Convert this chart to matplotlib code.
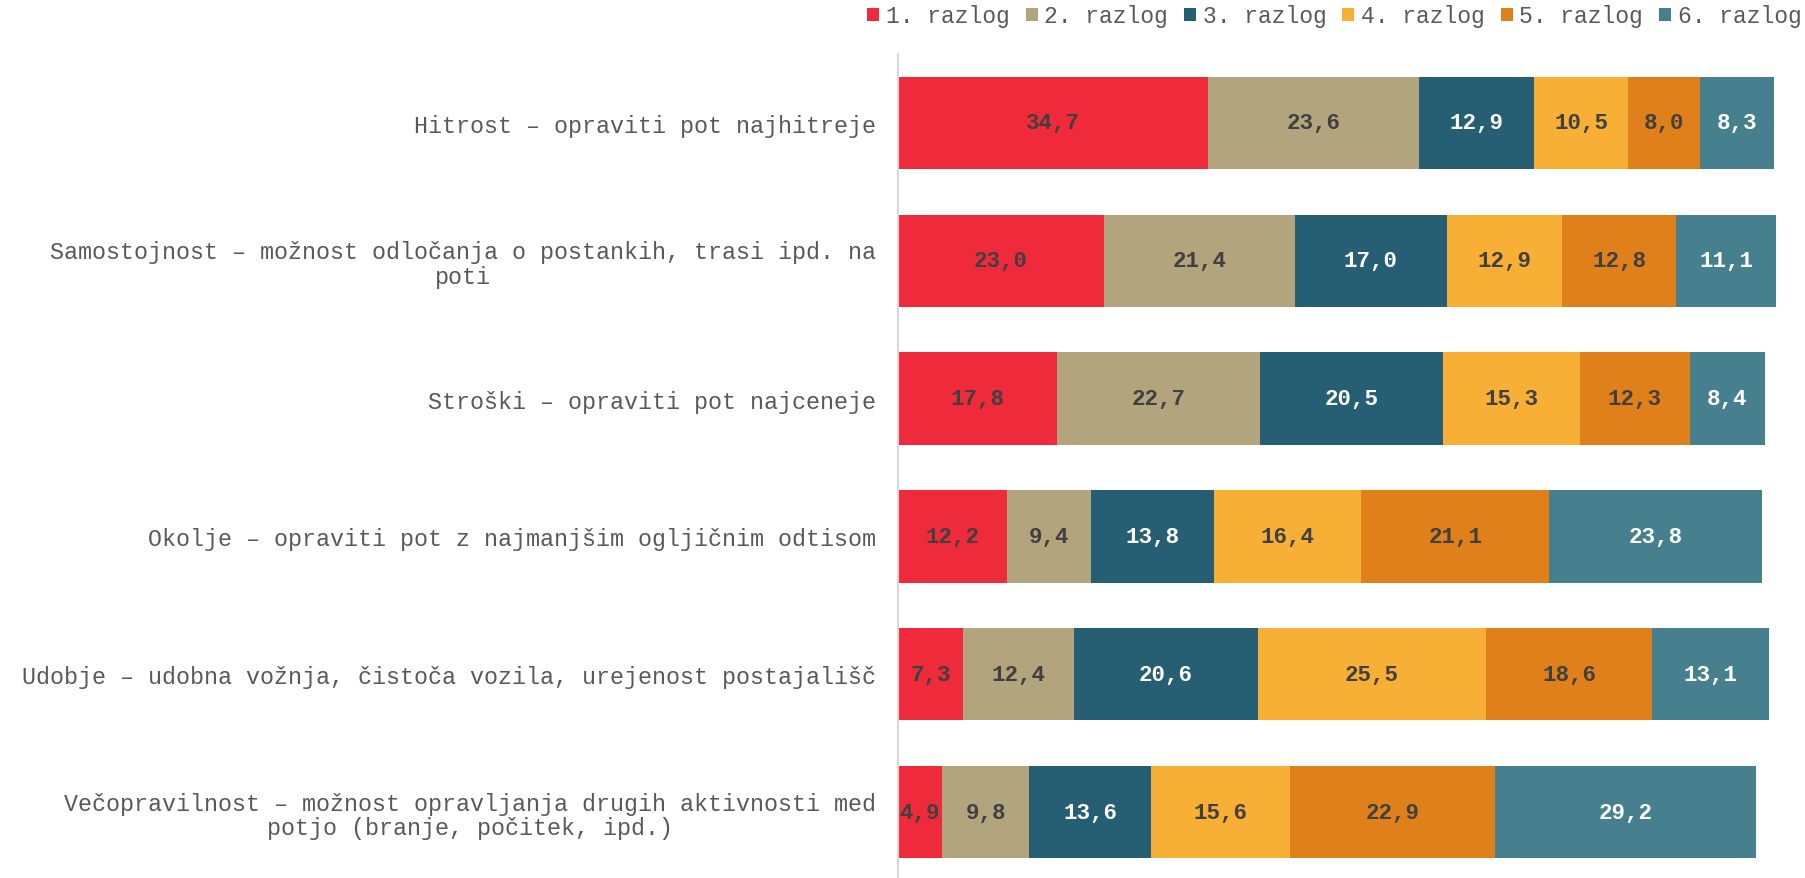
import matplotlib
matplotlib.use("Agg")
import matplotlib.pyplot as plt
import numpy as np

categories = [
    "Hitrost – opraviti pot najhitreje",
    "Samostojnost – možnost odločanja o postankih, trasi ipd. na\npoti",
    "Stroški – opraviti pot najceneje",
    "Okolje – opraviti pot z najmanjšim ogljičnim odtisom",
    "Udobje – udobna vožnja, čistoča vozila, urejenost postajališč",
    "Večopravilnost – možnost opravljanja drugih aktivnosti med\npotjo (branje, počitek, ipd.)",
]
series_names = ["1. razlog", "2. razlog", "3. razlog", "4. razlog", "5. razlog", "6. razlog"]
razlog1 = [34.7, 23.0, 17.8, 12.2, 7.3, 4.9]
razlog2 = [23.6, 21.4, 22.7, 9.4, 12.4, 9.8]
razlog3 = [12.9, 17.0, 20.5, 13.8, 20.6, 13.6]
razlog4 = [10.5, 12.9, 15.3, 16.4, 25.5, 15.6]
razlog5 = [8.0, 12.8, 12.3, 21.1, 18.6, 22.9]
razlog6 = [8.3, 11.1, 8.4, 23.8, 13.1, 29.2]
series = [razlog1, razlog2, razlog3, razlog4, razlog5, razlog6]

colors = ["#EE2A3B", "#B2A47C", "#265E74", "#F7AF35", "#E0801A", "#46808E"]
label_colors = ["#404040", "#404040", "white", "#404040", "#404040", "white"]

FONT = "Liberation Mono"
plt.rcParams["font.family"] = [FONT, "DejaVu Sans"]

fig = plt.figure(figsize=(18.06, 8.79), dpi=100)
ax = fig.add_axes([0.4972, -0.0034, 0.5028, 0.9408])

y = np.arange(len(categories))
left = np.zeros(len(categories))
for name, vals, col, lcol in zip(series_names, series, colors, label_colors):
    vals = np.array(vals)
    ax.barh(y, vals, left=left, height=0.67, color=col, label=name, edgecolor="none")
    for yi, l, v in zip(y, left, vals):
        ax.text(l + v / 2, yi, f"{v:.1f}".replace(".", ","), ha="center", va="center",
                fontsize=16.2, fontweight="bold", color=lcol, family=FONT)
    left += vals

ax.set_ylim(len(categories) - 0.5, -0.5)
ax.set_xlim(0, 101.6)
ax.set_yticks(y)
ax.set_yticklabels(categories, fontsize=16.8, color="#595959", family=FONT,
                   multialignment="center", linespacing=1.1)
ax.tick_params(axis="y", length=0, pad=16)
ax.tick_params(axis="x", bottom=False, labelbottom=False)
for s in ["top", "right", "bottom"]:
    ax.spines[s].set_visible(False)
ax.spines["left"].set_color("#D9D9D9")
ax.spines["left"].set_linewidth(1.5)

fig.legend(loc="upper right", bbox_to_anchor=(1.002, 1.003), ncol=6, frameon=False,
           prop={"family": FONT, "size": 16.6}, handlelength=0.52, handleheight=0.52,
           handletextpad=0.3, columnspacing=0.68, labelcolor="#595959",
           borderaxespad=0.15, borderpad=0.2)

fig.savefig("out.png", dpi=100, facecolor="white")
